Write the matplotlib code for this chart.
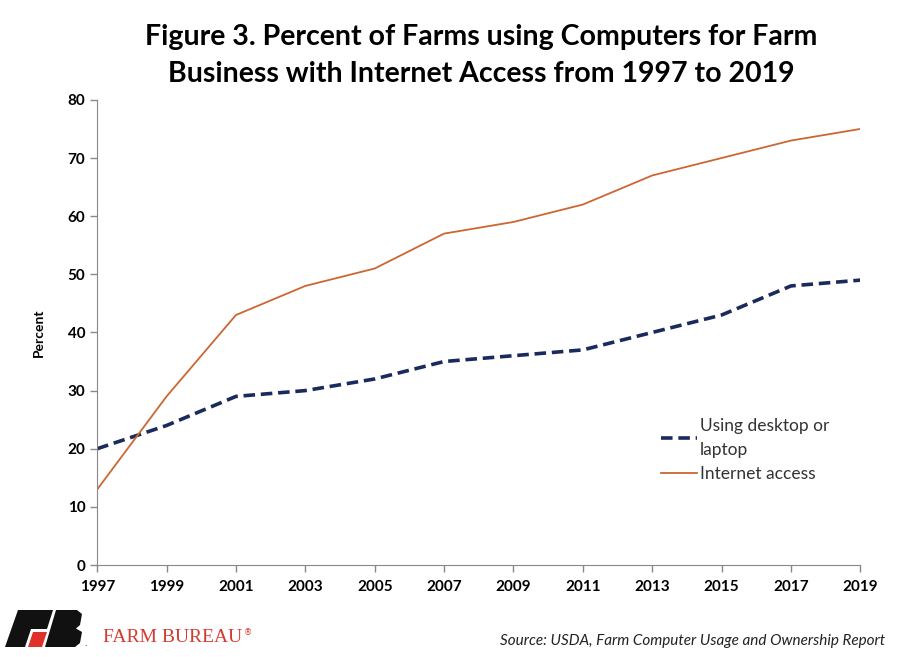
import matplotlib.pyplot as plt
from matplotlib.patches import Polygon

years = [1997, 1999, 2001, 2003, 2005, 2007, 2009, 2011, 2013, 2015, 2017, 2019]
desktop = [20, 24, 29, 30, 32, 35, 36, 37, 40, 43, 48, 49]
internet = [13, 29, 43, 48, 51, 57, 59, 62, 67, 70, 73, 75]
y_ticks = [0, 10, 20, 30, 40, 50, 60, 70, 80]

plt.rcParams['font.family'] = ['Lato', 'DejaVu Sans']

fig = plt.figure(figsize=(9, 6.57), dpi=100)
ax = fig.add_axes([0.108, 0.140, 0.848, 0.708])

ax.plot(years, desktop, color='#1b2a5c', lw=2.6, dashes=(3.2, 1.6),
        label='Using desktop or\nlaptop')
ax.plot(years, internet, color='#cc6633', lw=1.3, label='Internet access')

ax.set_xlim(1997, 2019)
ax.set_ylim(0, 80)
ax.set_xticks(years)
ax.set_yticks(y_ticks)
ax.tick_params(axis='both', labelsize=11, color='#888888', length=5, width=1)
for lbl in ax.get_xticklabels() + ax.get_yticklabels():
    lbl.set_fontweight('bold')
ax.tick_params(axis='x', pad=6)
for s in ['top', 'right']:
    ax.spines[s].set_visible(False)
for s in ['left', 'bottom']:
    ax.spines[s].set_color('#888888')
ax.set_ylabel('Percent', fontsize=10, fontweight='bold', labelpad=16)

leg = ax.legend(loc='upper left', bbox_to_anchor=(0.729, 0.330), frameon=False,
                fontsize=12.5, handlelength=2.1, handletextpad=0.15,
                labelspacing=0.5, borderaxespad=0,
                prop={'size': 12.5})
for t in leg.get_texts():
    t.set_color('#333333')
    t.set_linespacing(1.55)

fig.text(0.535, 0.944, 'Figure 3. Percent of Farms using Computers for Farm',
         ha='center', va='center', fontsize=20.5, fontweight='bold')
fig.text(0.535, 0.887, 'Business with Internet Access from 1997 to 2019',
         ha='center', va='center', fontsize=20.5, fontweight='bold')

fig.text(0.984, 0.024, 'Source: USDA, Farm Computer Usage and Ownership Report',
         ha='right', va='center', fontsize=11, style='italic', color='#222222')

# Farm Bureau logo, drawn in pixel-like coordinates of the lower left corner
lax = fig.add_axes([0.0, 0.0, 0.3, 59 / 657])
lax.set_xlim(0, 270)
lax.set_ylim(657, 598)
lax.axis('off')
black = '#111111'
red = '#e0302a'
shapes = [
    ([(18, 610), (53, 610), (47, 629), (31, 629), (25, 647), (5, 647)], black),
    ([(33, 632), (47, 632), (42, 647), (28, 647)], red),
    ([(56, 610), (77, 610), (82, 614), (80, 625), (76, 628.5),
      (82, 632), (80, 643), (75, 647), (45, 647)], black),
]
for pts, c in shapes:
    lax.add_patch(Polygon(pts, closed=True, color=c, lw=0))
lax.text(84, 648, '.', fontsize=7, color=black, va='bottom')
lax.text(103, 638, 'FARM BUREAU', fontsize=14, color='#d6392f',
         family='Liberation Serif', va='center')
lax.text(244, 633, '®', fontsize=6, color='#d6392f', family='DejaVu Sans', va='center')

fig.savefig('out.png', dpi=100)
